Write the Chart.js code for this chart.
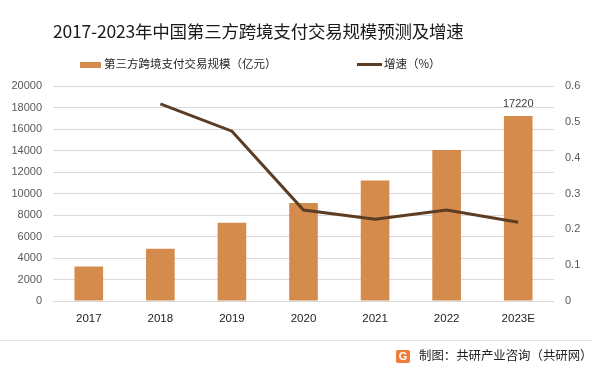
<!DOCTYPE html>
<html>
<head>
<meta charset="utf-8">
<script src="https://cdn.jsdelivr.net/npm/chart.js@4"></script>
<style>
  body { margin:0; background:#fff; font-family:"Noto Sans CJK SC", sans-serif; }
  #wrap { position:relative; width:598px; height:372px; overflow:hidden; }
  #title { position:absolute; left:53px; top:18px; font-size:17.5px; color:#1a1a1a; white-space:nowrap; letter-spacing:-0.2px; }
  .lg { position:absolute; top:55px; font-size:11.5px; color:#262626; white-space:nowrap; line-height:16px; }
  .sw { display:inline-block; vertical-align:middle; margin-right:3px; }
  #sep { position:absolute; left:0; top:340px; width:592px; height:1px; background:#e4e4e4; }
  #foot { position:absolute; left:396px; top:346px; font-size:12.4px; color:#222; white-space:nowrap; line-height:18px; }
  #logo { display:inline-block; width:14px; height:13px; background:#ee7d3b; color:#fff; font:bold 11px "Liberation Sans"; text-align:center; line-height:13px; vertical-align:middle; margin-right:9px; border-radius:2px; }
  canvas { position:absolute; left:0; top:0; }
</style>
</head>
<body>
<div id="wrap">
  <canvas id="myChart" width="598" height="372"></canvas>
  <div id="title">2017-2023年中国第三方跨境支付交易规模预测及增速</div>
  <div class="lg" style="left:80px"><span class="sw" style="width:21px;height:6px;background:#d58b4c"></span>第三方跨境支付交易规模（亿元）</div>
  <div class="lg" style="left:357px"><span class="sw" style="width:25px;height:3px;background:#5c3d24;margin-right:2px"></span>增速（%）</div>
  <div id="sep"></div>
  <div id="foot"><span id="logo">G</span>制图：共研产业咨询（共研网）</div>
</div>
<script>
var years = ['2017', '2018', '2019', '2020', '2021', '2022', '2023E']
var scale = [3200, 4850, 7280, 9120, 11200, 14050, 17220]   // 亿元
var growth = [null, 0.55, 0.474, 0.254, 0.228, 0.254, 0.22]
var leftTicks = [0, 2000, 4000, 6000, 8000, 10000, 12000, 14000, 16000, 18000, 20000]
var rightTicks = [0, 0.1, 0.2, 0.3, 0.4, 0.5, 0.6]

// label only on the last bar
var lastLabel = {
    id: 'lastLabel',
    afterDatasetsDraw: function(chart) {
        var ctx = chart.ctx
        var meta = chart.getDatasetMeta(1)
        var i = scale.length - 1
        var bar = meta.data[i]
        ctx.save()
        ctx.font = '11px "Liberation Sans"'
        ctx.fillStyle = '#404040'
        ctx.textAlign = 'center'
        ctx.textBaseline = 'bottom'
        ctx.fillText(String(scale[i]), bar.x, bar.y - 6)
        ctx.restore()
    }
}

var ctx = document.getElementById('myChart').getContext('2d')
new Chart(ctx, {
    data: {
        labels: years,
        datasets: [{
            type: 'line',
            label: '增速（%）',
            data: growth,
            yAxisID: 'y1',
            borderColor: '#5c3d24',
            borderWidth: 3,
            pointRadius: 0,
            tension: 0,
            order: 0
        }, {
            type: 'bar',
            label: '第三方跨境支付交易规模（亿元）',
            data: scale,
            yAxisID: 'y',
            backgroundColor: '#d58b4c',
            barPercentage: 0.4,
            categoryPercentage: 1,
            order: 1
        }]
    },
    options: {
        responsive: false,
        animation: false,
        layout: { padding: { top: 86, left: 0, right: 0, bottom: 41 } },
        plugins: { legend: { display: false }, tooltip: { enabled: false } },
        scales: {
            x: {
                grid: { display: false, drawTicks: false },
                border: { display: false },
                ticks: { color: '#222', font: { size: 11.5, family: 'Liberation Sans' }, padding: 11 },
                afterFit: function(s) { s.height = 30 }
            },
            y: {
                position: 'left',
                min: 0, max: 20000,
                afterBuildTicks: function(s) { s.ticks = leftTicks.map(function(v) { return { value: v } }) },
                grid: { color: '#d9d9d9', drawTicks: false },
                border: { display: false },
                ticks: {
                    color: '#595959', font: { size: 11, family: 'Liberation Sans' }, padding: 11,
                    callback: function(v) { return String(v) }
                },
                afterFit: function(s) { s.width = 53 }
            },
            y1: {
                position: 'right',
                min: 0, max: 0.6,
                afterBuildTicks: function(s) { s.ticks = rightTicks.map(function(v) { return { value: v } }) },
                grid: { display: false, drawTicks: false },
                border: { display: false },
                ticks: {
                    color: '#595959', font: { size: 11, family: 'Liberation Sans' }, padding: 11,
                    callback: function(v) { return v === 0 ? '0' : v.toFixed(1) }
                },
                afterFit: function(s) { s.width = 44 }
            }
        }
    },
    plugins: [lastLabel]
})
</script>
</body>
</html>
